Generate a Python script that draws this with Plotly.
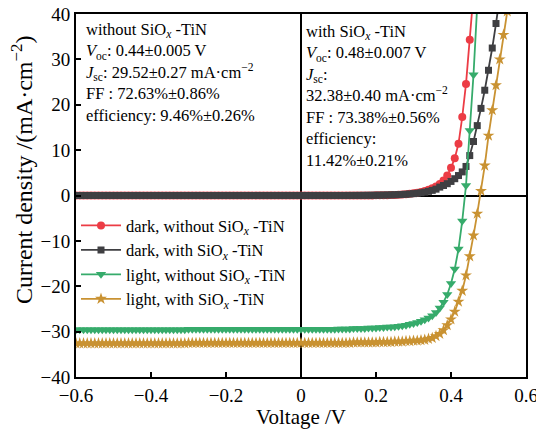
import plotly.graph_objects as go

voltage = [
    -0.60, -0.59, -0.58, -0.57, -0.56, -0.55, -0.54, -0.53, -0.52, -0.51,
    -0.50, -0.49, -0.48, -0.47, -0.46, -0.45, -0.44, -0.43, -0.42, -0.41,
    -0.40, -0.39, -0.38, -0.37, -0.36, -0.35, -0.34, -0.33, -0.32, -0.31,
    -0.30, -0.29, -0.28, -0.27, -0.26, -0.25, -0.24, -0.23, -0.22, -0.21,
    -0.20, -0.19, -0.18, -0.17, -0.16, -0.15, -0.14, -0.13, -0.12, -0.11,
    -0.10, -0.09, -0.08, -0.07, -0.06, -0.05, -0.04, -0.03, -0.02, -0.01,
    0.00, 0.01, 0.02, 0.03, 0.04, 0.05, 0.06, 0.07, 0.08, 0.09,
    0.10, 0.11, 0.12, 0.13, 0.14, 0.15, 0.16, 0.17, 0.18, 0.19,
    0.20, 0.21, 0.22, 0.23, 0.24, 0.25, 0.26, 0.27, 0.28, 0.29,
    0.30, 0.31, 0.32, 0.33, 0.34, 0.35, 0.36, 0.37, 0.38, 0.39,
    0.40, 0.41, 0.42, 0.43, 0.44, 0.45, 0.46, 0.47, 0.48, 0.49,
    0.50, 0.51, 0.52, 0.53, 0.54, 0.55, 0.56,
]

dark_without = [
    0.0, 0.0, 0.0, 0.0, 0.0, 0.0, 0.0, 0.0, 0.0, 0.0,
    0.0, 0.0, 0.0, 0.0, 0.0, 0.0, 0.0, 0.0, 0.0, 0.0,
    0.0, 0.0, 0.0, 0.0, 0.0, 0.0, 0.0, 0.0, 0.0, 0.0,
    0.0, 0.0, 0.0, 0.0, 0.0, 0.0, 0.0, 0.0, 0.0, 0.0,
    0.0, 0.0, 0.0, 0.0, 0.0, 0.0, 0.0, 0.0, 0.0, 0.0,
    0.0, 0.0, 0.0, 0.0, 0.0, 0.0, 0.0, 0.0, 0.0, 0.0,
    0.0, 0.0, 0.0, 0.0, 0.0, 0.0, 0.0, 0.0, 0.0, 0.0,
    0.0, 0.0, 0.0, 0.0, 0.0, 0.01, 0.01, 0.01, 0.02, 0.02,
    0.03, 0.04, 0.05, 0.07, 0.09, 0.12, 0.16, 0.21, 0.28, 0.36,
    0.47, 0.60, 0.77, 0.98, 1.25, 1.58, 2.00, 2.55, 3.30, 4.40,
    6.1, 8.2, 11.4, 17.3, 24.6, 34.3, 44.5, None, None, None,
    None, None, None, None, None, None, None,
]

dark_with = [
    0.0, 0.0, 0.0, 0.0, 0.0, 0.0, 0.0, 0.0, 0.0, 0.0,
    0.0, 0.0, 0.0, 0.0, 0.0, 0.0, 0.0, 0.0, 0.0, 0.0,
    0.0, 0.0, 0.0, 0.0, 0.0, 0.0, 0.0, 0.0, 0.0, 0.0,
    0.0, 0.0, 0.0, 0.0, 0.0, 0.0, 0.0, 0.0, 0.0, 0.0,
    0.0, 0.0, 0.0, 0.0, 0.0, 0.0, 0.0, 0.0, 0.0, 0.0,
    0.0, 0.0, 0.0, 0.0, 0.0, 0.0, 0.0, 0.0, 0.0, 0.0,
    0.0, 0.0, 0.0, 0.0, 0.0, 0.0, 0.0, 0.0, 0.0, 0.0,
    0.0, 0.0, 0.0, 0.01, 0.01, 0.02, 0.02, 0.03, 0.04, 0.05,
    0.06, 0.07, 0.09, 0.11, 0.13, 0.16, 0.19, 0.23, 0.28, 0.34,
    0.41, 0.50, 0.61, 0.75, 0.92, 1.13, 1.40, 1.85, 2.20, 2.60,
    3.1, 3.7, 4.4, 5.2, 6.4, 8.8, 11.9, 15.4, 19.2, 23.2,
    27.6, 32.5, 37.9, 43.8, None, None, None,
]

light_without = [
    -29.6, -29.6, -29.6, -29.6, -29.6, -29.6, -29.6, -29.6, -29.6, -29.6,
    -29.6, -29.6, -29.6, -29.6, -29.6, -29.6, -29.6, -29.6, -29.6, -29.6,
    -29.6, -29.6, -29.6, -29.6, -29.6, -29.6, -29.6, -29.6, -29.6, -29.6,
    -29.5, -29.5, -29.5, -29.5, -29.5, -29.5, -29.5, -29.5, -29.5, -29.5,
    -29.5, -29.5, -29.5, -29.5, -29.5, -29.5, -29.5, -29.5, -29.5, -29.5,
    -29.5, -29.5, -29.5, -29.5, -29.5, -29.5, -29.5, -29.5, -29.5, -29.5,
    -29.5, -29.5, -29.5, -29.5, -29.5, -29.5, -29.5, -29.5, -29.5, -29.5,
    -29.4, -29.4, -29.4, -29.4, -29.3, -29.3, -29.3, -29.3, -29.2, -29.2,
    -29.2, -29.1, -29.1, -29.0, -29.0, -28.9, -28.8, -28.7, -28.6, -28.4,
    -28.2, -28.0, -27.7, -27.4, -27.0, -26.5, -25.8, -24.8, -23.5, -21.8,
    -19.4, -16.2, -11.8, -5.6, 2.2, 14.3, 26.6, 42.0, None, None,
    None, None, None, None, None, None, None,
]

light_with = [
    -32.6, -32.6, -32.6, -32.6, -32.6, -32.6, -32.6, -32.6, -32.6, -32.6,
    -32.6, -32.6, -32.6, -32.6, -32.6, -32.6, -32.6, -32.6, -32.6, -32.6,
    -32.6, -32.6, -32.6, -32.6, -32.6, -32.6, -32.6, -32.6, -32.6, -32.6,
    -32.5, -32.5, -32.5, -32.5, -32.5, -32.5, -32.5, -32.5, -32.5, -32.5,
    -32.5, -32.5, -32.5, -32.5, -32.5, -32.5, -32.5, -32.5, -32.5, -32.5,
    -32.5, -32.5, -32.5, -32.5, -32.5, -32.5, -32.5, -32.5, -32.5, -32.5,
    -32.5, -32.5, -32.5, -32.5, -32.5, -32.5, -32.5, -32.5, -32.5, -32.5,
    -32.5, -32.5, -32.5, -32.5, -32.4, -32.4, -32.4, -32.4, -32.4, -32.4,
    -32.4, -32.3, -32.3, -32.3, -32.3, -32.2, -32.2, -32.2, -32.1, -32.1,
    -32.0, -32.0, -31.9, -31.8, -31.6, -31.4, -31.0, -30.5, -29.7, -28.6,
    -27.3, -25.6, -23.4, -21.0, -17.6, -13.4, -8.8, -4.0, 1.0, 6.6,
    13.2, 18.8, 24.3, 30.0, 35.4, 40.6, 46.0,
]

series_names = [
    "dark, without SiO<sub><i>x</i></sub> -TiN",
    "dark, with SiO<sub><i>x</i></sub> -TiN",
    "light, without SiO<sub><i>x</i></sub> -TiN",
    "light, with SiO<sub><i>x</i></sub> -TiN",
]
series_values = [dark_without, dark_with, light_without, light_with]
series_colors = ["#EC3C45", "#3F3F42", "#36AB6B", "#C99232"]
series_symbols = ["circle", "square", "triangle-down", "star"]
series_sizes = [8, 7, 9, 9]

xticks = [-0.6, -0.4, -0.2, 0, 0.2, 0.4, 0.6]
xtick_labels = ["\u22120.6", "\u22120.4", "\u22120.2", "0", "0.2", "0.4", "0.6"]
yticks = [-40, -30, -20, -10, 0, 10, 20, 30, 40]
ytick_labels = ["\u221240", "\u221230", "\u221220", "\u221210", "0", "10", "20", "30", "40"]

x_title = "Voltage /V"
y_title = "Current density /(mA\u00b7cm<sup>\u22122</sup>)"

left_text = (
    "without SiO<sub><i>x</i></sub> -TiN<br>"
    "<i>V</i><sub>oc</sub>: 0.44\u00b10.005 V<br>"
    "<i>J</i><sub>sc</sub>: 29.52\u00b10.27 mA\u00b7cm<sup>\u22122</sup><br>"
    "FF : 72.63%\u00b10.86%<br>"
    "efficiency: 9.46%\u00b10.26%"
)
right_text = (
    "with SiO<sub><i>x</i></sub> -TiN<br>"
    "<i>V</i><sub>oc</sub>: 0.48\u00b10.007 V<br>"
    "<i>J</i><sub>sc</sub>:<br>"
    "32.38\u00b10.40 mA\u00b7cm<sup>\u22122</sup><br>"
    "FF : 73.38%\u00b10.56%<br>"
    "efficiency:<br>"
    "11.42%\u00b10.21%"
)

FONT = "Liberation Serif"

fig = go.Figure()
for name, vals, col, sym, sz in zip(series_names, series_values, series_colors,
                                    series_symbols, series_sizes):
    fig.add_trace(go.Scatter(
        x=voltage, y=vals, name=name, mode="lines+markers",
        line=dict(color=col, width=1.8),
        marker=dict(symbol=sym, size=sz, color=col, line=dict(width=0)),
    ))

fig.add_annotation(x=-0.58, y=39.2, xref="x", yref="y", text=left_text,
                   showarrow=False, xanchor="left", yanchor="top", align="left",
                   font=dict(family=FONT, size=16.5, color="black"))
fig.add_annotation(x=0.008, y=38.6, xref="x", yref="y", text=right_text,
                   showarrow=False, xanchor="left", yanchor="top", align="left",
                   font=dict(family=FONT, size=16.5, color="black"))
# axis titles
fig.add_annotation(x=0.5, y=-0.11, xref="paper", yref="paper", text=x_title,
                   showarrow=False, xanchor="center", yanchor="middle",
                   font=dict(family=FONT, size=21, color="black"))
fig.add_annotation(x=-0.12, y=0.57, xref="paper", yref="paper", text=y_title,
                   showarrow=False, xanchor="center", yanchor="middle",
                   textangle=-90,
                   font=dict(family=FONT, size=24, color="black"))

axis_common = dict(
    showgrid=False, showline=True, linecolor="black", linewidth=2,
    mirror=True, ticks="inside", ticklen=5, tickwidth=2, tickcolor="black",
    zeroline=True, zerolinecolor="black", zerolinewidth=2,
    tickfont=dict(family=FONT, size=19, color="black"),
    automargin=False, ticklabeloverflow="allow",
)

# the page body adds an 8 px offset, so the figure is 8 px smaller each way
fig.update_layout(
    width=536, height=422,
    margin=dict(l=68, r=18, t=6, b=53),
    paper_bgcolor="white", plot_bgcolor="white",
    font=dict(family=FONT, color="black"),
    showlegend=True,
    legend=dict(x=0.0, y=0.465, xanchor="left", yanchor="top",
                bgcolor="rgba(0,0,0,0)", font=dict(family=FONT, size=16.5),
                tracegroupgap=0, itemwidth=40),
    xaxis=dict(range=[-0.6, 0.6], tickvals=xticks, ticktext=xtick_labels,
               **axis_common),
    yaxis=dict(range=[-40, 40], tickvals=yticks, ticktext=ytick_labels,
               **axis_common),
)

fig.write_html("out.html")
